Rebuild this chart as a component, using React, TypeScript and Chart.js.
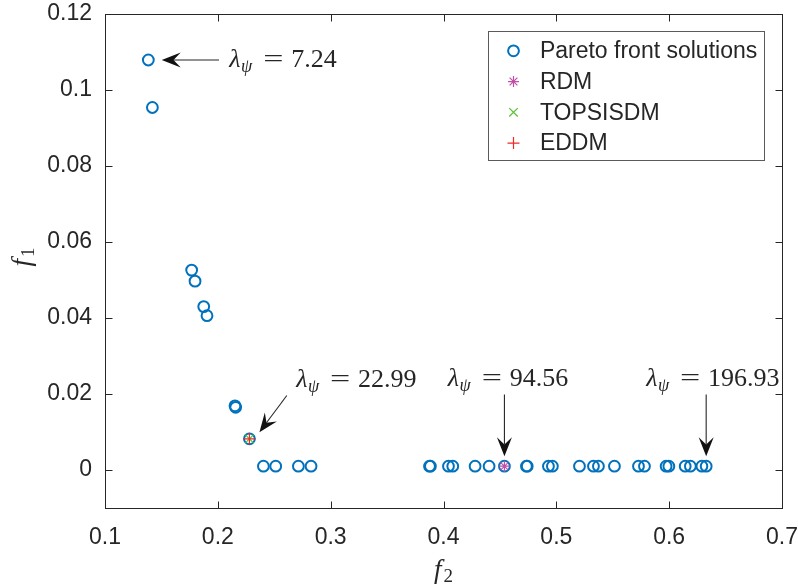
import React, { useEffect, useRef } from 'react';
import { Chart, registerables } from 'chart.js';

Chart.register(...registerables);

// ---- data ----
const paretoF2 = [
  0.1384, 0.1420, 0.1768, 0.1798, 0.1875, 0.1904, 0.2152, 0.2158, 0.2280,
  0.2404, 0.2513, 0.2714, 0.2826, 0.3876, 0.3884, 0.4044, 0.4082, 0.4280,
  0.4404, 0.4540, 0.4735, 0.4742, 0.4930, 0.4965, 0.5205, 0.5329, 0.5373,
  0.5515, 0.5728, 0.5781, 0.5973, 0.5997, 0.6142, 0.6188, 0.6290, 0.6328,
];
const paretoF1 = [
  0.1079, 0.0954, 0.0526, 0.0497, 0.0430, 0.0406, 0.0169, 0.0165, 0.0082,
  0.0010, 0.0010, 0.0010, 0.0010, 0.0010, 0.0010, 0.0010, 0.0010, 0.0010,
  0.0010, 0.0010, 0.0010, 0.0010, 0.0010, 0.0010, 0.0010, 0.0010, 0.0010,
  0.0010, 0.0010, 0.0010, 0.0010, 0.0010, 0.0010, 0.0010, 0.0010, 0.0010,
];
const rdmF2 = [0.4540];
const rdmF1 = [0.0010];
const topsisF2 = [0.2280];
const topsisF1 = [0.0082];
const eddmF2 = [0.2280];
const eddmF1 = [0.0082];

const seriesLabels = ['Pareto front solutions', 'RDM', 'TOPSISDM', 'EDDM'];

const xTicks = [0.1, 0.2, 0.3, 0.4, 0.5, 0.6, 0.7];
const xTickLabels = ['0.1', '0.2', '0.3', '0.4', '0.5', '0.6', '0.7'];
const yTicks = [0, 0.02, 0.04, 0.06, 0.08, 0.1, 0.12];
const yTickLabels = ['0', '0.02', '0.04', '0.06', '0.08', '0.1', '0.12'];

// annotation: which Pareto point, its lambda value
const annotIndex = [0, 8, 19, 35];
const annotValues = ['7.24', '22.99', '94.56', '196.93'];

// ---- styles ----
const AXIS = '#262626';
const BLUE = '#0072BD';
const MAGENTA = '#C04FA8';
const GREEN = '#55C030';
const RED = '#F02828';
const SANS = '"Liberation Sans", Arial, sans-serif';
const SERIF = '"Liberation Serif", "Times New Roman", serif';

// per-annotation pixel offsets relative to the target point
const annotGeom = [
  { tip: [13.4, 0], tail: [70.7, 0], text: [80, 7] },
  { tip: [10, -6.7], tail: [37.4, -43.3], text: [45.7, -52.3] },
  { tip: [0, -10], tail: [0, -71.7], text: [-57.6, -80] },
  { tip: [0, -10], tail: [0, -71.7], text: [-61, -80] },
];

function drawArrow(ctx: CanvasRenderingContext2D, x0: number, y0: number, x1: number, y1: number) {
  const headLen = 19;
  const headHalf = 7.5;
  const ang = Math.atan2(y1 - y0, x1 - x0);
  const ux = Math.cos(ang);
  const uy = Math.sin(ang);
  const bx = x1 - ux * headLen;
  const by = y1 - uy * headLen;
  const nx = x1 - ux * headLen * 0.62;
  const ny = y1 - uy * headLen * 0.62;
  ctx.save();
  ctx.strokeStyle = AXIS;
  ctx.fillStyle = '#111';
  ctx.lineWidth = 1.1;
  ctx.beginPath();
  ctx.moveTo(x0, y0);
  ctx.lineTo(nx, ny);
  ctx.stroke();
  ctx.beginPath();
  ctx.moveTo(x1, y1);
  ctx.lineTo(bx - uy * headHalf, by + ux * headHalf);
  ctx.lineTo(nx, ny);
  ctx.lineTo(bx + uy * headHalf, by - ux * headHalf);
  ctx.closePath();
  ctx.fill();
  ctx.restore();
}

function drawLambda(ctx: CanvasRenderingContext2D, x: number, baseline: number, value: string) {
  const fs = 26;
  ctx.save();
  ctx.fillStyle = AXIS;
  ctx.textAlign = 'left';
  ctx.textBaseline = 'alphabetic';
  ctx.font = `italic ${fs}px ${SERIF}`;
  ctx.fillText('λ', x + 1, baseline);
  const lw = ctx.measureText('λ').width;
  ctx.font = `italic ${Math.round(fs * 0.7)}px ${SERIF}`;
  ctx.fillText('ψ', x + 1 + lw + 0.5, baseline + fs * 0.2);
  let cx = x + fs * 0.583 + fs * 0.46 + fs * 0.3;
  ctx.font = `${fs}px ${SERIF}`;
  const eqW = ctx.measureText('=').width;
  const target = fs * 0.778;
  ctx.save();
  ctx.translate(cx, baseline);
  ctx.scale(target / eqW, 1);
  ctx.fillText('=', 0, 0);
  ctx.restore();
  cx += target + fs * 0.3;
  ctx.fillText(value, cx, baseline);
  ctx.restore();
}

function drawMarker(ctx: CanvasRenderingContext2D, style: string, x: number, y: number, r: number, color: string, lw: number) {
  ctx.save();
  ctx.strokeStyle = color;
  ctx.lineWidth = lw;
  ctx.beginPath();
  if (style === 'circle') {
    ctx.arc(x, y, r, 0, Math.PI * 2);
  } else {
    const drawCross = () => {
      ctx.moveTo(x - r, y);
      ctx.lineTo(x + r, y);
      ctx.moveTo(x, y - r);
      ctx.lineTo(x, y + r);
    };
    const d = r * Math.SQRT1_2;
    const drawRot = () => {
      ctx.moveTo(x - d, y - d);
      ctx.lineTo(x + d, y + d);
      ctx.moveTo(x - d, y + d);
      ctx.lineTo(x + d, y - d);
    };
    if (style === 'cross') drawCross();
    else if (style === 'crossRot') drawRot();
    else {
      drawCross();
      drawRot();
    }
  }
  ctx.stroke();
  ctx.restore();
}

const decorPlugin = {
  id: 'decor',
  afterDraw(chart: any) {
    const ctx: CanvasRenderingContext2D = chart.ctx;
    const ca = chart.chartArea;
    const xs = chart.scales.x;
    const ys = chart.scales.y;
    const L = Math.round(ca.left) + 0.5;
    const R = Math.round(ca.right) + 0.5;
    const T = Math.round(ca.top) + 0.5;
    const B = Math.round(ca.bottom) + 0.5;
    const tl = 7;

    ctx.save();
    ctx.strokeStyle = AXIS;
    ctx.lineWidth = 1;
    ctx.strokeRect(L, T, R - L, B - T);
    ctx.beginPath();
    xTicks.forEach((v) => {
      const px = Math.round(xs.getPixelForValue(v)) + 0.5;
      ctx.moveTo(px, B);
      ctx.lineTo(px, B - tl);
      ctx.moveTo(px, T);
      ctx.lineTo(px, T + tl);
    });
    yTicks.forEach((v) => {
      const py = Math.round(ys.getPixelForValue(v)) + 0.5;
      ctx.moveTo(L, py);
      ctx.lineTo(L + tl, py);
      ctx.moveTo(R, py);
      ctx.lineTo(R - tl, py);
    });
    ctx.stroke();
    ctx.restore();

    // annotations
    annotIndex.forEach((idx, i) => {
      const px = xs.getPixelForValue(paretoF2[idx]);
      const py = ys.getPixelForValue(paretoF1[idx]);
      const g = annotGeom[i];
      drawArrow(ctx, px + g.tail[0], py + g.tail[1], px + g.tip[0], py + g.tip[1]);
      drawLambda(ctx, px + g.text[0], py + g.text[1], annotValues[i]);
    });

    // legend
    const ds = chart.data.datasets;
    ctx.save();
    ctx.font = `23px ${SANS}`;
    const textW = Math.max(...seriesLabels.map((s) => ctx.measureText(s).width));
    const boxRight = Math.round(ca.right - 18) + 0.5;
    const boxTop = Math.round(ca.top + 17) + 0.5;
    const boxW = 51.4 + textW + 7.3;
    const boxLeft = Math.round(boxRight - boxW) + 0.5;
    const rowH = 30.75;
    const boxH = 19.3 + rowH * 3 + 17.7;
    ctx.fillStyle = '#ffffff';
    ctx.fillRect(boxLeft, boxTop, boxRight - boxLeft, boxH);
    ctx.strokeStyle = '#5a5a5a';
    ctx.lineWidth = 1;
    ctx.strokeRect(boxLeft, boxTop, boxRight - boxLeft, Math.round(boxH));
    ds.forEach((d: any, i: number) => {
      const cy = boxTop + 19.3 + rowH * i;
      drawMarker(ctx, d.pointStyle, boxLeft + 25, cy, d.pointRadius, d.borderColor, d.borderWidth);
      ctx.fillStyle = AXIS;
      ctx.textAlign = 'left';
      ctx.textBaseline = 'middle';
      ctx.font = `23px ${SANS}`;
      ctx.fillText(d.label, boxLeft + 51.4, cy + 1);
    });
    ctx.restore();

    // axis titles
    const fsz = 27;
    const drawTitle = (sub: string) => {
      ctx.font = `italic ${fsz}px ${SERIF}`;
      const fw = ctx.measureText('f').width;
      ctx.font = `${Math.round(fsz * 0.7)}px ${SERIF}`;
      const sw = ctx.measureText(sub).width;
      const total = fw + 2 + sw;
      ctx.font = `italic ${fsz}px ${SERIF}`;
      ctx.textAlign = 'left';
      ctx.fillText('f', -total / 2, 0);
      ctx.font = `${Math.round(fsz * 0.7)}px ${SERIF}`;
      ctx.fillText(sub, -total / 2 + fw + 2, fsz * 0.15);
    };
    ctx.save();
    ctx.fillStyle = AXIS;
    ctx.textBaseline = 'alphabetic';
    ctx.translate((ca.left + ca.right) / 2, 578);
    drawTitle('2');
    ctx.restore();
    ctx.save();
    ctx.fillStyle = AXIS;
    ctx.textBaseline = 'alphabetic';
    ctx.translate(30, (ca.top + ca.bottom) / 2 - 4);
    ctx.rotate(-Math.PI / 2);
    drawTitle('1');
    ctx.restore();
  },
};

function toPoints(xs: number[], ys: number[]) {
  return xs.map((x, i) => ({ x, y: ys[i] }));
}

export default function App() {
  const ref = useRef<HTMLCanvasElement | null>(null);

  useEffect(() => {
    document.body.style.margin = '0';
    if (!ref.current) return;
    const chart = new Chart(ref.current, {
      type: 'scatter',
      data: {
        datasets: [
          {
            label: seriesLabels[0],
            data: toPoints(paretoF2, paretoF1),
            pointStyle: 'circle',
            pointRadius: 5.4,
            borderWidth: 2,
            borderColor: BLUE,
            backgroundColor: 'rgba(0,0,0,0)',
            order: 3,
          },
          {
            label: seriesLabels[1],
            data: toPoints(rdmF2, rdmF1),
            pointStyle: 'star',
            pointRadius: 5.5,
            borderWidth: 1.2,
            borderColor: MAGENTA,
            backgroundColor: MAGENTA,
            order: 2,
          },
          {
            label: seriesLabels[2],
            data: toPoints(topsisF2, topsisF1),
            pointStyle: 'crossRot',
            pointRadius: 6,
            borderWidth: 1.2,
            borderColor: GREEN,
            backgroundColor: GREEN,
            order: 1,
          },
          {
            label: seriesLabels[3],
            data: toPoints(eddmF2, eddmF1),
            pointStyle: 'cross',
            pointRadius: 6,
            borderWidth: 1.2,
            borderColor: RED,
            backgroundColor: RED,
            order: 0,
          },
        ] as any,
      },
      options: {
        animation: false,
        responsive: false,
        maintainAspectRatio: false,
        events: [],
        layout: { padding: { left: 0, top: 14, right: 16, bottom: 0 } },
        plugins: {
          legend: { display: false },
          tooltip: { enabled: false },
          title: { display: false },
        },
        scales: {
          x: {
            type: 'linear',
            min: 0.1,
            max: 0.7,
            grid: { display: false, drawTicks: false },
            border: { display: false },
            afterBuildTicks: (s: any) => {
              s.ticks = xTicks.map((v) => ({ value: v }));
            },
            afterFit: (s: any) => {
              s.height = 79;
              s.paddingLeft = 0;
              s.paddingRight = 0;
            },
            ticks: {
              autoSkip: false,
              maxRotation: 0,
              padding: 16,
              color: AXIS,
              font: { family: SANS, size: 23 },
              callback: (_v: any, i: number) => xTickLabels[i],
            },
          },
          y: {
            type: 'linear',
            min: -0.01,
            max: 0.12,
            grid: { display: false, drawTicks: false },
            border: { display: false },
            afterBuildTicks: (s: any) => {
              s.ticks = yTicks.map((v) => ({ value: v }));
            },
            afterFit: (s: any) => {
              s.width = 105;
              s.paddingTop = 0;
              s.paddingBottom = 0;
            },
            ticks: {
              autoSkip: false,
              padding: 13,
              color: AXIS,
              font: { family: SANS, size: 23 },
              callback: (_v: any, i: number) => yTickLabels[i],
            },
          },
        },
      } as any,
      plugins: [decorPlugin],
    });
    return () => chart.destroy();
  }, []);

  return (
    <div style={{ width: 798, height: 587, background: '#fff' }}>
      <canvas ref={ref} width={798} height={587} style={{ display: 'block', width: 798, height: 587 }} />
    </div>
  );
}
